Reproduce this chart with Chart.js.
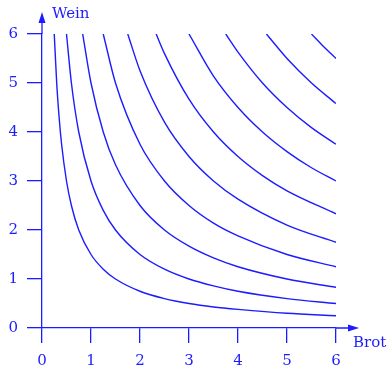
<!DOCTYPE html>
<html>
<head>
<meta charset="utf-8">
<script src="https://cdn.jsdelivr.net/npm/chart.js@4.4.1/dist/chart.umd.min.js"></script>
<style>
  html, body { margin: 0; padding: 0; background: #fff; }
  #wrap { width: 391px; height: 369px; position: relative; }
</style>
</head>
<body>
<div id="wrap"><canvas id="chart"></canvas></div>
<script>
// Indifferenzkurven (Brot, Wein)
const curveX = [
    [0.25, 0.3, 0.35, 0.4, 0.5, 0.6, 0.75, 1, 1.25, 1.5, 2, 2.5, 3, 3.5, 4, 5, 6],
    [0.5, 0.6, 0.75, 1, 1.25, 1.5, 2, 2.5, 3, 3.5, 4, 5, 6],
    [0.83, 1, 1.25, 1.5, 2, 2.5, 3, 3.5, 4, 5, 6],
    [1.25, 1.5, 2, 2.5, 3, 3.5, 4, 5, 6],
    [1.75, 2, 2.5, 3, 3.5, 4, 5, 6],
    [2.33, 2.5, 3, 3.5, 4, 4.5, 5, 6],
    [3, 3.5, 4, 4.5, 5, 5.5, 6],
    [3.75, 4, 4.5, 5, 5.5, 6],
    [4.58, 5, 5.5, 6],
    [5.5, 5.75, 6],
];
const curveY = [
    [6, 5, 4.29, 3.75, 3, 2.5, 2, 1.5, 1.2, 1, 0.75, 0.6, 0.5, 0.43, 0.38, 0.3, 0.25],
    [6, 5, 4, 3, 2.4, 2, 1.5, 1.2, 1, 0.86, 0.75, 0.6, 0.5],
    [6, 5, 4, 3.33, 2.5, 2, 1.67, 1.43, 1.25, 1, 0.83],
    [6, 5, 3.75, 3, 2.5, 2.14, 1.88, 1.5, 1.25],
    [6, 5.25, 4.2, 3.5, 3, 2.63, 2.1, 1.75],
    [6, 5.6, 4.67, 4, 3.5, 3.11, 2.8, 2.33],
    [6, 5.14, 4.5, 4, 3.6, 3.27, 3],
    [6, 5.63, 5, 4.5, 4.09, 3.75],
    [6, 5.5, 5, 4.58],
    [6, 5.74, 5.5],
];
const axisTicks = [0, 1, 2, 3, 4, 5, 6];
const xTitle = 'Brot';
const yTitle = 'Wein';

const blue = '#1c1cff';
const serif = "'DejaVu Serif', 'Liberation Serif', serif";

const datasets = curveX.map((xs, i) => ({
    data: xs.map((x, j) => ({ x: x, y: curveY[i][j] })),
    showLine: true,
    borderColor: blue,
    borderWidth: 1.4,
    pointRadius: 0,
    cubicInterpolationMode: 'monotone',
}));

// Pfeile an den Achsenenden und Achsenbeschriftung
const arrowAxes = {
    id: 'arrowAxes',
    afterDraw(chart) {
        const ctx = chart.ctx;
        const x0 = chart.scales.x.getPixelForValue(0);
        const y0 = chart.scales.y.getPixelForValue(0);
        const area = chart.chartArea;
        ctx.save();
        ctx.strokeStyle = blue;
        ctx.fillStyle = blue;
        ctx.lineWidth = 1.3;
        ctx.beginPath();
        ctx.moveTo(x0, area.top);
        ctx.lineTo(x0, area.top - 11);
        ctx.moveTo(area.right, y0);
        ctx.lineTo(area.right + 12, y0);
        ctx.stroke();
        // y-Pfeil
        ctx.beginPath();
        ctx.moveTo(x0, area.top - 22);
        ctx.lineTo(x0 - 3.5, area.top - 11);
        ctx.lineTo(x0 + 3.5, area.top - 11);
        ctx.closePath();
        ctx.fill();
        // x-Pfeil
        ctx.beginPath();
        ctx.moveTo(area.right + 23, y0);
        ctx.lineTo(area.right + 12, y0 - 3.5);
        ctx.lineTo(area.right + 12, y0 + 3.5);
        ctx.closePath();
        ctx.fill();

        ctx.font = '15px ' + serif;
        ctx.textBaseline = 'alphabetic';
        ctx.textAlign = 'left';
        ctx.fillText(yTitle, x0 + 10, area.top - 16);
        ctx.fillText(xTitle, area.right + 17, y0 + 19);
        ctx.restore();
    }
};

const scaleOpts = (fitKey, fitSize) => ({
    type: 'linear',
    min: 0,
    max: 6,
    afterBuildTicks: (scale) => {
        scale.ticks = axisTicks.map(v => ({ value: v }));
    },
    afterFit: (scale) => {
        scale[fitKey] = fitSize;
    },
    border: { display: true, color: blue, width: 1.3 },
    grid: {
        display: true,
        drawOnChartArea: false,
        drawTicks: true,
        tickLength: 15,
        color: blue,
        lineWidth: 1.3,
    },
    ticks: {
        color: blue,
        padding: 9,
        font: { family: serif, size: 15 },
        maxRotation: 0,
    },
});

new Chart(document.getElementById('chart').getContext('2d'), {
    type: 'scatter',
    data: { datasets: datasets },
    options: {
        responsive: true,
        maintainAspectRatio: false,
        animation: false,
        layout: { padding: { top: 34, right: 55, left: 0, bottom: 0 } },
        plugins: {
            legend: { display: false },
            tooltip: { enabled: false },
        },
        scales: {
            x: scaleOpts('height', 41),
            y: scaleOpts('width', 42),
        },
    },
    plugins: [arrowAxes],
});
</script>
</body>
</html>
